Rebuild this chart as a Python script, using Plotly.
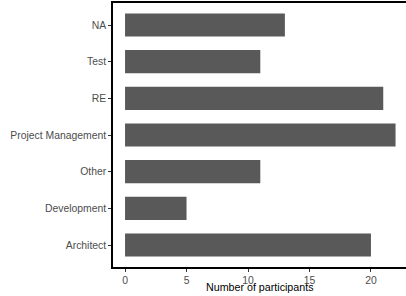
import plotly.graph_objects as go

categories = ["Architect", "Development", "Other", "Project Management", "RE", "Test", "NA"]
participants = [20, 5, 11, 22, 21, 11, 13]
x_ticks = [0, 5, 10, 15, 20]

fig = go.Figure(go.Bar(
    x=participants, y=categories, orientation="h",
    marker=dict(color="#595959", line=dict(width=0)), width=0.63,
))

font_family = "Liberation Sans, Arial, sans-serif"
fig.update_layout(
    width=406, height=296,
    margin=dict(l=113, r=0, t=3, b=29),
    paper_bgcolor="white", plot_bgcolor="white",
    showlegend=False,
    font=dict(family=font_family, size=10.4, color="#4d4d4d"),
)
fig.update_xaxes(
    range=[-0.98, 22.85], tickvals=x_ticks, showgrid=False, zeroline=False,
    showline=True, linecolor="black", linewidth=1.5, mirror=True,
    ticks="outside", ticklen=3, tickcolor="#333333", tickwidth=1,
    tickfont=dict(size=10.4, color="#4d4d4d"), automargin=False,
)
fig.update_yaxes(
    categoryorder="array", categoryarray=categories, range=[-0.6, 6.6],
    showgrid=False, zeroline=False,
    showline=True, linecolor="black", linewidth=1.5,
    ticks="outside", ticklen=3, tickcolor="#333333", tickwidth=1,
    tickfont=dict(size=10.4, color="#4d4d4d"), automargin=False,
)
fig.add_annotation(
    text="Number of participants", xref="paper", yref="paper",
    x=0.5, y=0, xanchor="center", yanchor="top", yshift=-12,
    showarrow=False, font=dict(size=10.7, color="black", family=font_family),
)
fig.write_html(
    "out.html",
    config={"displayModeBar": False},
    post_script="document.body.style.margin='0';document.body.style.overflow='hidden';",
)
